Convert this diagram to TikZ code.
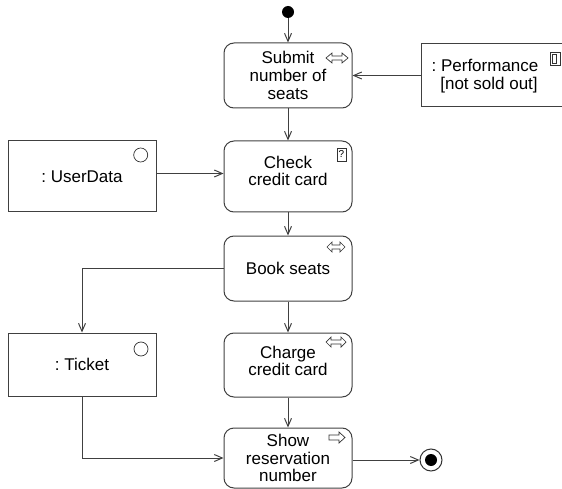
\documentclass[tikz,border=0pt]{standalone}
\usepackage{fontspec}
\setmainfont{Liberation Sans}
\usetikzlibrary{arrows.meta}
\frenchspacing
\begin{document}
\begin{tikzpicture}[x=1pt,y=-1pt,
  line width=1pt,
  every node/.style={font=\fontsize{17}{17.7}\selectfont, align=center},
  action/.style={draw=black!75, rounded corners=10pt, minimum width=128pt, inner sep=0pt},
  objbox/.style={draw=black!75, inner sep=0pt},
  arr/.style={draw=black!75, -{Straight Barb[length=8pt,width=7pt]}},
  icon/.style={draw=black!80, line width=0.7pt}
]
\useasboundingbox (0,0) rectangle (562,489);

% nodes
\node[circle, fill=black, minimum size=12pt, inner sep=0pt] (init) at (288,12) {};
\node[action, minimum height=65pt] (submit) at (288,75.5) {Submit\\number of\\seats};
\node[objbox, minimum width=149pt, minimum height=63pt] (perf) at (495.5,75.5) {};
\node[inner sep=0pt] (perftext) at (485,76) {: Performance\\\hspace*{8pt}[not sold out]};
\node[objbox, minimum width=148pt, minimum height=71pt] (user) at (82,176.5) {: UserData};
\node[action, minimum height=71pt] (check) at (288,176.5) {};
\node[inner sep=0pt] (checktext) at (288,171) {Check\\credit card};
\node[action, minimum height=65pt] (book) at (288,268.5) {Book seats};
\node[objbox, minimum width=148pt, minimum height=63pt] (ticket) at (82,364.5) {: Ticket};
\node[action, minimum height=64pt] (charge) at (288,365) {};
\node[inner sep=0pt] (chargetext) at (288,361) {Charge\\credit card};
\node[action, minimum height=60pt] (show) at (288,458) {Show\\reservation\\number};
\node[circle, draw=black!80, minimum size=22pt, inner sep=0pt] (final) at (431,460) {};
\fill (final.center) circle (6pt);

% icons
\draw[icon, shift={(337,58)}] (-11,0) -- (-5,-5) -- (-5,-2) -- (5,-2) -- (5,-5) -- (11,0) -- (5,5) -- (5,2) -- (-5,2) -- (-5,5) -- cycle;
\draw[icon, shift={(336,247)}] (-9,0) -- (-4,-5) -- (-4,-2) -- (4,-2) -- (4,-5) -- (9,0) -- (4,5) -- (4,2) -- (-4,2) -- (-4,5) -- cycle;
\draw[icon, shift={(336,342)}] (-10,0) -- (-5,-5) -- (-5,-2) -- (5,-2) -- (5,-5) -- (10,0) -- (5,5) -- (5,2) -- (-5,2) -- (-5,5) -- cycle;
\draw[icon, shift={(337,437.5)}] (-8,-2.5) -- (2,-2.5) -- (2,-5.5) -- (8,0) -- (2,5.5) -- (2,2.5) -- (-8,2.5) -- cycle;
\draw[icon] (337,148) rectangle (346,161);
\node[font=\fontsize{10}{10}\selectfont, inner sep=0pt] at (341.5,154.5) {?};
\draw[icon] (140.7,155) circle (7pt);
\draw[icon] (141,349) circle (7pt);
\draw[icon] (550,52) rectangle (560,65);
\draw[icon] (552,54) rectangle (556,63);

% connectors
\draw[arr] (init) -- (submit);
\draw[arr] (perf.west) -- (submit.east);
\draw[arr] (submit) -- (check);
\draw[arr] ([yshift=3pt]user.east) -- ([yshift=3pt]check.west);
\draw[arr] (check) -- (book);
\draw[arr] (book) -- (charge);
\draw[arr] (book.west) -| (ticket.north);
\draw[arr] (charge) -- (show);
\draw[arr] (ticket.south) |- (show.west);
\draw[arr] (show.east |- final.west) -- (final.west);
\end{tikzpicture}
\end{document}
